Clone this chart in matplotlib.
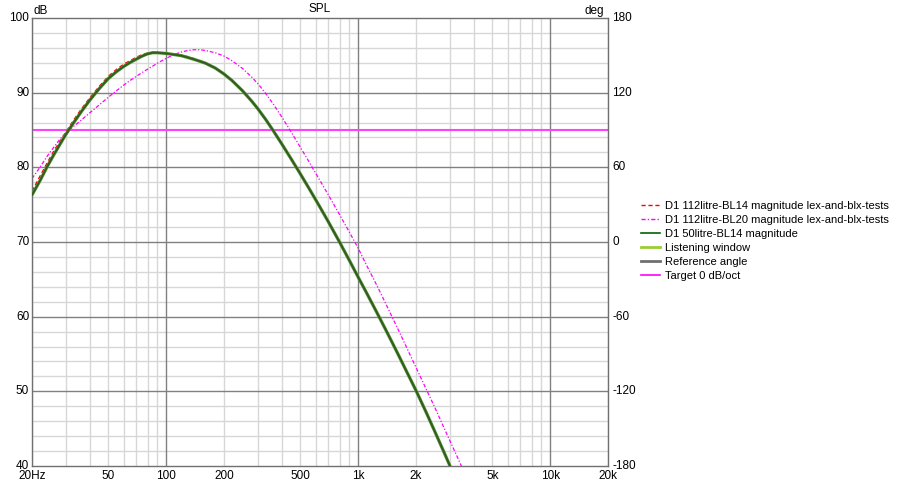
import matplotlib
matplotlib.use("Agg")
import matplotlib.pyplot as plt
import matplotlib.transforms as mtransforms
from matplotlib.ticker import FixedLocator, NullFormatter
from matplotlib.lines import Line2D

plt.rcParams['font.family'] = ['Liberation Sans', 'DejaVu Sans']

freq = [20, 22, 24, 26, 28, 30, 33, 36, 40, 45, 50, 55, 60, 65, 70, 75, 80, 85, 90, 100,
        110, 120, 130, 140, 150, 160, 180, 200, 220, 250, 280, 300, 330, 360, 400, 450,
        500, 560, 630, 700, 800, 900, 1000, 1100, 1250, 1400, 1600, 1800, 2000, 2250,
        2500, 2800, 3000, 3100]

bl14_50 = [76.3, 78.2, 80.1, 81.7, 83.1, 84.4, 86.0, 87.4, 89.0, 90.6, 91.9, 92.8, 93.5,
           94.05, 94.5, 94.9, 95.2, 95.35, 95.35, 95.25, 95.1, 94.95, 94.7, 94.45, 94.2,
           93.95, 93.3, 92.5, 91.63, 90.24, 88.81, 87.85, 86.4, 84.96, 83.13, 81.03, 79.11,
           76.99, 74.74, 72.68, 69.98, 67.52, 65.28, 63.29, 60.57, 58.11, 55.15, 52.49,
           50.11, 47.29, 44.68, 41.83, 40.06, 39.2]

bl14_112 = [76.8, 78.8, 80.6, 82.2, 83.5, 84.7, 86.35, 87.75, 89.3, 90.9, 92.2, 93.1, 93.8,
            94.3, 94.75, 95.1, 95.3, 95.4, 95.4, 95.3, 95.2, 95.05, 94.8, 94.55, 94.25,
            94.0, 93.3, 92.5, 91.63, 90.24, 88.81, 87.85, 86.4, 84.96, 83.13, 81.03, 79.11,
            76.99, 74.74, 72.68, 69.98, 67.52, 65.28, 63.29, 60.57, 58.11, 55.15, 52.49,
            50.11, 47.29, 44.68, 41.83, 40.06, 39.2]

freq_bl20 = [20, 22, 24, 26, 28, 30, 33, 36, 40, 45, 50, 55, 60, 65, 70, 75, 80, 85, 90, 100,
             110, 120, 130, 140, 150, 160, 180, 200, 220, 250, 280, 300, 330, 360, 400, 450,
             500, 560, 630, 700, 800, 900, 1000, 1100, 1250, 1400, 1600, 1800, 2000, 2250,
             2500, 2800, 3000, 3400, 3500]
bl20_112 = [78.5, 80.0, 81.5, 82.7, 83.8, 84.6, 85.5, 86.3, 87.3, 88.4, 89.4, 90.25, 91.0,
            91.65, 92.2, 92.7, 93.15, 93.55, 93.95, 94.6, 95.1, 95.45, 95.65, 95.75, 95.75,
            95.65, 95.35, 94.9, 94.28, 93.23, 92.05, 91.21, 89.89, 88.53, 86.74, 84.64,
            82.67, 80.55, 78.3, 76.28, 73.67, 71.31, 69.16, 67.0, 64.2, 61.6, 58.5, 55.7,
            53.2, 50.4, 47.9, 45.1, 43.4, 40.35, 39.6]

target_freq = [20, 20000]
target_db = [85, 85]

xtick_vals = [20, 50, 100, 200, 500, 1000, 2000, 5000, 10000, 20000]
xtick_labels = ['20Hz', '50', '100', '200', '500', '1k', '2k', '5k', '10k', '20k']
ytick_vals = [40, 50, 60, 70, 80, 90, 100]
deg_vals = [-180, -120, -60, 0, 60, 120, 180]

W, H = 898, 483
fig = plt.figure(figsize=(W / 100, H / 100), dpi=100)
L, R, T, B = 32, 608, 18, 466
ax = fig.add_axes([L / W, 1 - B / H, (R - L) / W, (B - T) / H])
ax.set_xscale('log')
ax.set_xlim(20, 20000)
ax.set_ylim(40, 100)

# grid
minor_x = [m * 10 ** e for e in (1, 2, 3, 4) for m in range(2, 10) if 20 <= m * 10 ** e <= 20000]
for v in minor_x:
    ax.axvline(v, color='#d7d7d7', lw=1, zorder=0)
for v in (100, 1000, 10000):
    ax.axvline(v, color='#808080', lw=1, zorder=0.5)
for v in range(40, 101, 2):
    if v % 10:
        ax.axhline(v, color='#d7d7d7', lw=1, zorder=0)
for v in range(50, 100, 10):
    ax.axhline(v, color='#808080', lw=1, zorder=0.5)

ax.set_xticks(xtick_vals)
ax.set_xticklabels(xtick_labels)
ax.xaxis.set_minor_locator(FixedLocator([]))
ax.xaxis.set_minor_formatter(NullFormatter())
ax.set_yticks(ytick_vals)
ax.set_yticklabels([str(v) for v in ytick_vals])
ax.tick_params(axis='both', length=0, labelsize=8.5, colors='black')
ax.tick_params(axis='x', pad=3)
ax.tick_params(axis='y', pad=2)
for s in ax.spines.values():
    s.set_color('#707070')
    s.set_linewidth(1)

ax2 = ax.twinx()
ax2.set_ylim(-180, 180)
ax2.set_yticks(deg_vals)
ax2.set_yticklabels([str(v) for v in deg_vals])
ax2.tick_params(axis='y', length=0, labelsize=8.5, pad=3)
for s in ax2.spines.values():
    s.set_visible(False)

# nudge y tick labels slightly upward, as in the reference
up = mtransforms.ScaledTranslation(0, 1.5 / 100, fig.dpi_scale_trans)
for lab in ax.get_yticklabels() + ax2.get_yticklabels():
    lab.set_transform(lab.get_transform() + up)

# curves
ax.plot(freq, bl14_50, color='#4a9a2a', lw=2.3, zorder=3, solid_capstyle='butt')
ax.plot(freq, bl14_50, color='#505a30', lw=1.3, zorder=3.1)
ax.plot(freq, bl14_112, color='#ff0000', lw=1, ls=(0, (3, 2)), zorder=2.5)
ax.plot(freq_bl20, bl20_112, color='#ff00ff', lw=0.9, ls=(0, (3, 1.5, 1, 1.5)), zorder=2.5)
ax.plot(freq, bl14_50, color='#1f5a1f', lw=1.0, alpha=0.6, zorder=3.2)
ax.plot(target_freq, target_db, color='#ff40ff', lw=1.5, zorder=2)

handles = [
    Line2D([], [], color='#ff0000', lw=1, ls=(0, (3, 2))),
    Line2D([], [], color='#ff00ff', lw=1, ls=(0, (3, 1.5, 1, 1.5))),
    Line2D([], [], color='#006400', lw=1.2),
    Line2D([], [], color='#9acd32', lw=2),
    Line2D([], [], color='#707070', lw=2),
    Line2D([], [], color='#ff00ff', lw=1.2),
]
labels = ['D1 112litre-BL14 magnitude lex-and-blx-tests',
          'D1 112litre-BL20 magnitude lex-and-blx-tests',
          'D1 50litre-BL14 magnitude',
          'Listening window',
          'Reference angle',
          'Target 0 dB/oct']
fig.legend(handles, labels, loc='upper left', bbox_to_anchor=(641 / W, 1 - 201 / H),
           frameon=False, fontsize=8.0, handlelength=1.75, handletextpad=0.45,
           labelspacing=0.36, borderpad=0, borderaxespad=0)

fig.text(320 / W, 1 - 9 / H, 'SPL', ha='center', va='center', fontsize=8.5)
fig.text(34 / W, 1 - 11 / H, 'dB', ha='left', va='center', fontsize=8.5)
fig.text(604 / W, 1 - 11 / H, 'deg', ha='right', va='center', fontsize=8.5)

fig.savefig('out.png', dpi=100, facecolor='white')
